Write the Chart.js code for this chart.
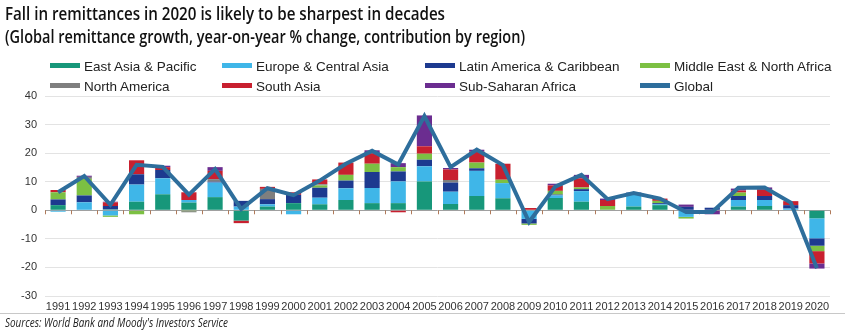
<!DOCTYPE html>
<html>
<head>
<meta charset="utf-8">
<script src="https://cdn.jsdelivr.net/npm/chart.js@4.4.1/dist/chart.umd.min.js"></script>
<style>
  html, body { margin: 0; padding: 0; background: #fff; }
  #wrap { position: relative; width: 850px; height: 330px; overflow: hidden; font-family: "Liberation Sans", Arial, sans-serif; }
  .fit { position: absolute; white-space: nowrap; transform-origin: 0 0; }
  #title { left: 5px; top: 1px; font-family: "Open Sans", sans-serif; font-weight: 600; font-size: 18px; color: #111; }
  #subtitle { left: 5px; top: 24px; font-family: "Open Sans", sans-serif; font-weight: 600; font-size: 18px; color: #111; }
  #legend { position: absolute; left: 0; top: 57px; width: 850px; height: 40px; }
  .li { position: absolute; font-size: 13.5px; color: #222; white-space: nowrap; line-height: 16px; }
  .sw { display: inline-block; width: 30px; height: 5px; vertical-align: middle; margin-right: 4px; position: relative; top: -2px; }
  #rule { position: absolute; left: 0; top: 313px; width: 845px; height: 1px; background: #c8c8c8; }
  #source { left: 5px; top: 314px; font-family: "Open Sans", sans-serif; font-style: italic; font-size: 12px; color: #222; }
  canvas { position: absolute; left: 0; top: 0; }
</style>
</head>
<body>
<div id="wrap">
  <canvas id="c" width="850" height="330"></canvas>
  <div id="title" class="fit" data-w="440">Fall in remittances in 2020 is likely to be sharpest in decades</div>
  <div id="subtitle" class="fit" data-w="520">(Global remittance growth, year-on-year % change, contribution by region)</div>
  <div id="legend"></div>
  <div id="rule"></div>
  <div id="source" class="fit" data-w="223">Sources: World Bank and Moody's Investors Service</div>
</div>
<script>
const years = ["1991","1992","1993","1994","1995","1996","1997","1998","1999","2000",
               "2001","2002","2003","2004","2005","2006","2007","2008","2009","2010",
               "2011","2012","2013","2014","2015","2016","2017","2018","2019","2020"];

const eastAsiaPacific = [1.8,0,0.3,3.0,5.6,2.7,4.6,-3.6,1.3,2.5, 2.1,3.6,2.5,2.5,10.1,2.2,5.0,4.2,0,4.3, 3.0,0.2,1.3,1.8,0,0,1.3,1.5,0,-2.8];
const europeCentralAsia = [-0.5,2.8,-1.8,6.0,5.6,0.9,5.1,1.3,0.8,-1.4, 2.3,4.1,5.3,7.6,5.3,4.3,8.8,5.3,-3.0,0.9, 3.7,0,4.4,0.3,-2.3,0,2.3,2.1,0.6,-7.0];
const latinAmericaCaribbean = [2.0,2.4,1.2,3.6,2.9,0,0.3,2.0,1.8,2.9, 3.5,2.7,5.6,3.5,2.3,3.2,0.9,0,-1.6,0.3, 0.7,0,0.5,0.4,1.2,0.9,1.4,1.4,1.2,-2.6];
const middleEastNorthAfrica = [2.5,5.8,-0.5,-1.4,0,-0.3,0,0,0,0, 0.8,2.0,2.9,1.5,2.1,0,2.0,1.2,-0.5,1.3, 0.6,1.3,0,0.8,-0.6,0,1.2,0,0,-1.9];
const northAmerica = [0,0.7,0,0,0,-0.4,0.9,0,3.6,0, 0.4,0,0,0,0,0.9,0,0,0,0, 0,0,0,0,0,0,0,0,0,0];
const southAsia = [0.8,0,1.3,4.9,1.0,2.7,2.9,-0.9,0.7,0.9, 1.7,4.3,3.7,-0.7,2.6,3.7,3.9,5.6,0.8,1.9, 3.2,2.1,0,0.8,0,0,0.7,2.3,1.4,-4.3];
const subSaharanAfrica = [0,0.4,0.2,0,0.5,0,1.3,0,0,0, 0,0,1.0,1.4,10.8,0.5,0.6,0,0,0.6, 1.2,0.5,0,0,0.8,-1.4,0.7,0.7,0,-1.8];
const globalGrowth = [6.3,12.0,1.9,15.9,15.2,5.5,14.4,0.4,7.7,5.3, 10.4,16.3,20.8,16.0,33.0,15.1,21.2,15.8,-4.1,8.3, 12.4,3.9,6.0,4.1,-0.6,-0.6,7.9,8.0,2.7,-20.3];

const yTicks = [40,30,20,10,0,-10,-20,-30];

const seriesNames = ["East Asia & Pacific","Europe & Central Asia","Latin America & Caribbean","Middle East & North Africa","North America","South Asia","Sub-Saharan Africa","Global"];
const seriesColors = ["#17977a","#3fb6e8","#1d3a8f","#7cc043","#7f7f7f","#c8202f","#6b2d90","#2e6e9c"];
const barSeries = [eastAsiaPacific, europeCentralAsia, latinAmericaCaribbean, middleEastNorthAfrica, northAmerica, southAsia, subSaharanAfrica];

// fit condensed-looking headings to the reference widths
document.querySelectorAll('.fit').forEach(el => {
  const w = el.getBoundingClientRect().width;
  const target = +el.dataset.w;
  el.style.transform = 'scaleX(' + (target / w) + ')';
});

const datasets = barSeries.map((d, i) => ({
  type: 'bar', label: seriesNames[i], data: d, backgroundColor: seriesColors[i],
  stack: 's', barPercentage: 0.58, categoryPercentage: 1.0, order: 2, borderWidth: 0
}));
datasets.push({
  type: 'line', label: seriesNames[7], data: globalGrowth, borderColor: seriesColors[7],
  borderWidth: 4, pointRadius: 0, tension: 0, order: 1, fill: false
});

// HTML legend in a fixed 4-column grid
const legendCols = [50, 222, 425, 640];
const legendRows = [59, 79];
const leg = document.getElementById('legend');
seriesNames.forEach((n, i) => {
  const d = document.createElement('div');
  d.className = 'li';
  d.style.left = legendCols[i % 4] + 'px';
  d.style.top = (legendRows[Math.floor(i / 4)] - 57) + 'px';
  d.innerHTML = '<span class="sw" style="background:' + seriesColors[i] + '"></span>' + n.replace(/&/g, '&amp;');
  leg.appendChild(d);
});

const zeroTicks = {
  id: 'zeroTicks',
  beforeDatasetsDraw(chart) {
    const x = chart.scales.x, y = chart.scales.y, ctx = chart.ctx;
    const y0 = y.getPixelForValue(0);
    const w = x.getPixelForValue(1) - x.getPixelForValue(0);
    ctx.save();
    ctx.strokeStyle = '#b07a5a';
    ctx.lineWidth = 1;
    for (let i = 0; i <= years.length; i++) {
      const px = Math.round(x.getPixelForValue(i) - w / 2) + 0.5;
      ctx.beginPath(); ctx.moveTo(px, y0); ctx.lineTo(px, y0 + 4); ctx.stroke();
    }
    ctx.restore();
  }
};

new Chart(document.getElementById('c'), {
  data: { labels: years, datasets },
  options: {
    responsive: false, animation: false,
    layout: { padding: { top: 96, right: 20, bottom: 18, left: 0 } },
    plugins: { legend: { display: false }, tooltip: { enabled: false }, title: { display: false } },
    scales: {
      x: {
        stacked: true,
        grid: { display: false, drawTicks: false },
        border: { display: false },
        ticks: { color: '#333', font: { family: 'Liberation Sans', size: 11 }, padding: 4, maxRotation: 0, autoSkip: false },
        afterFit(s) { s.height = 16; }
      },
      y: {
        stacked: true, min: -30, max: 40,
        afterBuildTicks(s) { s.ticks = yTicks.map(v => ({ value: v })); },
        grid: {
          drawTicks: false,
          color: ctx => ctx.tick && ctx.tick.value === 0 ? '#a0a0a0' : '#e3e3e3',
          lineWidth: 1
        },
        border: { display: false },
        ticks: { color: '#333', font: { family: 'Liberation Sans', size: 11 }, padding: 8 },
        afterFit(s) { s.width = 45; }
      }
    }
  },
  plugins: [zeroTicks]
});
</script>
</body>
</html>
